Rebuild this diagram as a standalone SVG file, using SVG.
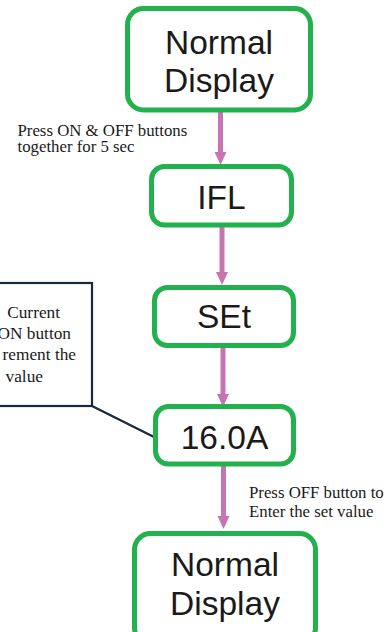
<svg xmlns="http://www.w3.org/2000/svg" width="387" height="632" viewBox="0 0 387 632">
<defs>
<style>
.node rect{fill:#ffffff;stroke:#22B14C;stroke-width:5}
.nt{font-family:"Liberation Sans",Arial,sans-serif;font-size:33.5px;fill:#1a1a1a;text-anchor:middle}
.lbl{font-family:"Liberation Serif","Times New Roman",serif;font-size:16.8px;fill:#1a1a1a}
.cl{font-family:"Liberation Serif","Times New Roman",serif;font-size:17.3px;fill:#1a1a1a;text-anchor:end}
.shaft{stroke:#C873B2;stroke-width:5;fill:none}
.head{fill:#C873B2}
.call{fill:#ffffff;stroke:#17293A;stroke-width:2.2}
</style>
</defs>
<rect width="387" height="632" fill="#ffffff"/>
<g id="connectors">
<line class="shaft" x1="220.5" y1="111" x2="220.5" y2="152"/>
<path class="head" d="M214.5,152 L226.5,152 L220.5,165 Z"/>
<line class="shaft" x1="222" y1="226" x2="222" y2="272"/>
<path class="head" d="M216,272 L228,272 L222,285 Z"/>
<line class="shaft" x1="223" y1="347" x2="223" y2="394"/>
<path class="head" d="M217,394 L229,394 L223,407 Z"/>
<line class="shaft" x1="223.5" y1="465" x2="223.5" y2="516"/>
<path class="head" d="M217.5,516 L229.5,516 L223.5,529 Z"/>
<line x1="92" y1="406" x2="154" y2="437" stroke="#17293A" stroke-width="2.2"/>
</g>
<g id="label-press-on-off">
<text class="lbl" x="17.5" y="135.5">Press ON &amp; OFF buttons</text>
<text class="lbl" x="17.5" y="152">together for 5 sec</text>
</g>
<g id="label-press-off">
<text class="lbl" x="249" y="498">Press OFF button to</text>
<text class="lbl" x="249" y="517">Enter the set value</text>
</g>
<g id="callout">
<rect class="call" x="-10" y="283" width="102" height="123"/>
<text class="cl" x="60" y="317.5">Current</text>
<text class="cl" x="71" y="338.5">ON button</text>
<text class="cl" x="76" y="360">rement the</text>
<text class="cl" x="43" y="382">value</text>
</g>
<g id="node-normal-top" class="node">
<rect x="127.5" y="8.5" width="183" height="101.5" rx="16"/>
<text class="nt" x="219" y="54">Normal</text>
<text class="nt" x="219" y="92">Display</text>
</g>
<g id="node-ifl" class="node">
<rect x="151.5" y="166.5" width="140" height="58.5" rx="13"/>
<text class="nt" x="221.5" y="209">IFL</text>
</g>
<g id="node-set" class="node">
<rect x="154.5" y="287.5" width="139" height="58" rx="13"/>
<text class="nt" x="224" y="328">SEt</text>
</g>
<g id="node-value" class="node">
<rect x="155.5" y="406.5" width="138" height="57.5" rx="13"/>
<text class="nt" x="224.5" y="449">16.0A</text>
</g>
<g id="node-normal-bottom" class="node">
<rect x="134.5" y="533.5" width="181" height="110" rx="16"/>
<text class="nt" x="225" y="576">Normal</text>
<text class="nt" x="225" y="615">Display</text>
</g>
</svg>
